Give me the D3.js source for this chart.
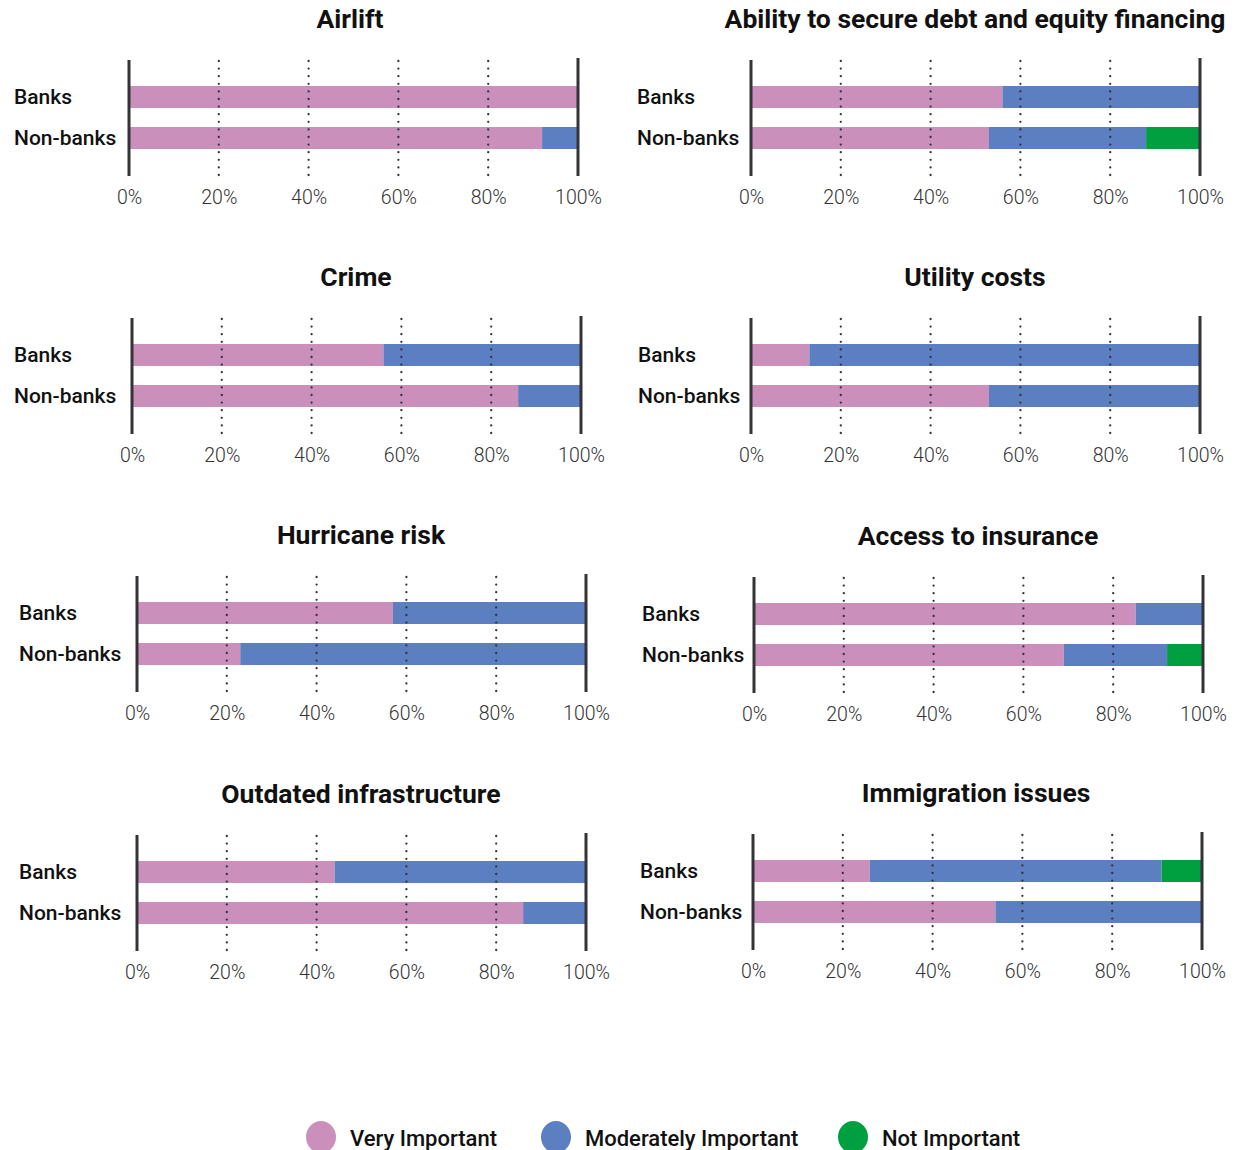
<!DOCTYPE html>
<html>
<head>
<meta charset="utf-8">
<script src="https://cdn.jsdelivr.net/npm/d3@7"></script>
<style>
  html, body { margin: 0; padding: 0; background: #fff; }
  svg { display: block; }
</style>
</head>
<body>
<script>
// Survey: importance of business-environment factors, banks vs non-banks (share of respondents, %)
const factors = [
  "Airlift",
  "Ability to secure debt and equity financing",
  "Crime",
  "Utility costs",
  "Hurricane risk",
  "Access to insurance",
  "Outdated infrastructure",
  "Immigration issues"
];
const groups = ["Banks", "Non-banks"];
const seriesNames = ["Very Important", "Moderately Important", "Not Important"];

// [Banks, Non-banks] for each factor
const veryImportant       = [[100, 92], [56, 53], [56, 86], [13, 53], [57, 23], [85, 69], [44, 86], [26, 54]];
const moderatelyImportant = [[0, 8],    [44, 35], [44, 14], [87, 47], [43, 77], [15, 23], [56, 14], [65, 46]];
const notImportant        = [[0, 0],    [0, 12],  [0, 0],   [0, 0],   [0, 0],   [0, 8],   [0, 0],   [9, 0]];

const tickValues = [0, 20, 40, 60, 80, 100];
const gridValues = [20, 40, 60, 80];

const colors = ["#ca8fba", "#5b7fc0", "#00a040"];

// Panel placement: left edge of plot, top of plot, title centre, label left
const panelLayout = [
  { x: 129, y: 60,  tx: 350, lx: 14 },
  { x: 751, y: 60,  tx: 975, lx: 637 },
  { x: 132, y: 318, tx: 356, lx: 14 },
  { x: 751, y: 318, tx: 975, lx: 638 },
  { x: 137, y: 576, tx: 361, lx: 19 },
  { x: 754, y: 577, tx: 978, lx: 642 },
  { x: 137, y: 835, tx: 361, lx: 19 },
  { x: 753, y: 834, tx: 976, lx: 640 }
];

const W = 1243, H = 1150;
const plotW = 449, plotH = 116;
const ink = "#333338";

const svg = d3.select("body").append("svg")
  .attr("width", W).attr("height", H)
  .attr("viewBox", `0 0 ${W} ${H}`);

const seriesData = [veryImportant, moderatelyImportant, notImportant];

factors.forEach((name, i) => {
  const L = panelLayout[i];
  const g = svg.append("g").attr("transform", `translate(${L.x},${L.y})`);

  const x = d3.scaleLinear().domain([0, 100]).range([0, plotW]);
  const y = d3.scaleBand().domain(groups).range([26, 89]).paddingInner(0.463).paddingOuter(0);

  // title
  svg.append("text")
    .attr("x", L.tx).attr("y", L.y - 42)
    .attr("text-anchor", "middle")
    .attr("dominant-baseline", "central")
    .style("font-family", "Roboto, 'Noto Sans', sans-serif")
    .style("font-weight", 700)
    .style("font-size", "26.5px")
    .style("fill", "#111")
    .text(name);

  // stacked bars
  groups.forEach((grp, gi) => {
    let acc = 0;
    seriesData.forEach((s, si) => {
      const v = s[i][gi];
      if (v > 0) {
        g.append("rect")
          .attr("x", x(acc))
          .attr("y", y(grp))
          .attr("width", x(acc + v) - x(acc))
          .attr("height", y.bandwidth())
          .attr("fill", colors[si]);
      }
      acc += v;
    });
  });

  // dotted gridlines, drawn over the bars
  g.selectAll("line.grid").data(gridValues).join("line")
    .attr("class", "grid")
    .attr("x1", d => x(d)).attr("x2", d => x(d))
    .attr("y1", 1).attr("y2", plotH)
    .attr("stroke", ink)
    .attr("stroke-width", 2.3)
    .attr("stroke-linecap", "round")
    .attr("stroke-dasharray", "0,7.6");

  // group labels
  groups.forEach(grp => {
    svg.append("text")
      .attr("x", L.lx)
      .attr("y", L.y + y(grp) + y.bandwidth() / 2)
      .attr("dominant-baseline", "central")
      .style("font-family", "Roboto, 'Noto Sans', sans-serif")
      .style("font-weight", 500)
      .style("font-size", "21px")
      .style("fill", "#111")
      .text(grp);
  });

  // frame lines at 0% and 100%
  g.append("line").attr("x1", x(0)).attr("x2", x(0)).attr("y1", 0).attr("y2", plotH)
    .attr("stroke", ink).attr("stroke-width", 3);
  g.append("line").attr("x1", x(100)).attr("x2", x(100)).attr("y1", -2).attr("y2", plotH)
    .attr("stroke", ink).attr("stroke-width", 3);

  // percentage axis
  const axis = g.append("g")
    .attr("transform", `translate(0,${plotH + 22})`)
    .call(d3.axisBottom(x).tickValues(tickValues).tickSize(0).tickFormat(d => d + "%"));
  axis.select(".domain").remove();
  axis.selectAll("text")
    .attr("dy", "0.32em")
    .attr("y", 0)
    .style("font-family", "Roboto, 'Noto Sans', sans-serif")
    .style("font-weight", 300)
    .style("font-size", "19.5px")
    .style("fill", "#333");
});

// legend
const legendX = [321, 556, 853];
const legend = svg.append("g");
seriesNames.forEach((s, i) => {
  legend.append("ellipse")
    .attr("cx", legendX[i]).attr("cy", 1137)
    .attr("rx", 15).attr("ry", 16)
    .attr("fill", colors[i]);
  legend.append("text")
    .attr("x", legendX[i] + 29).attr("y", 1138)
    .attr("dominant-baseline", "central")
    .style("font-family", "Roboto, 'Noto Sans', sans-serif")
    .style("font-weight", 500)
    .style("font-size", "22px")
    .style("fill", "#111")
    .text(s);
});
</script>
</body>
</html>
